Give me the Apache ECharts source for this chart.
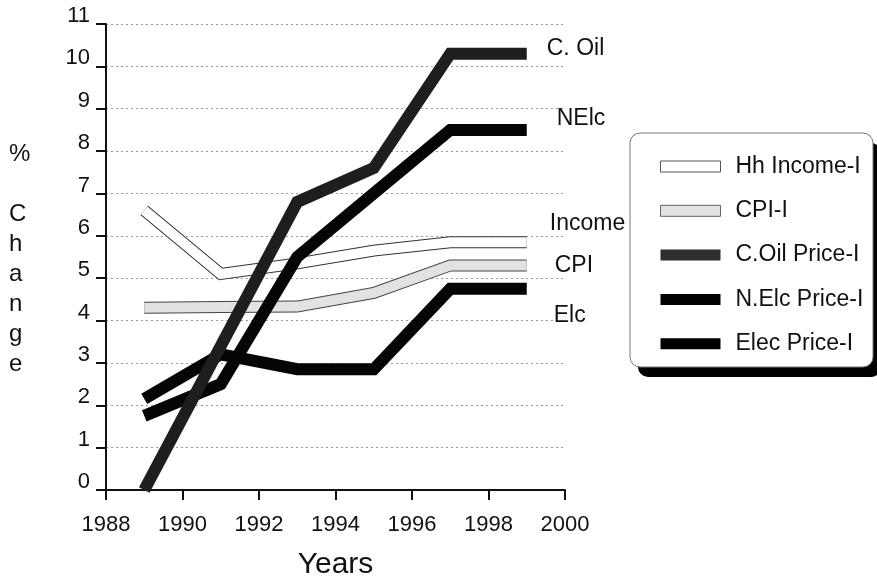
<!DOCTYPE html>
<html>
<head>
<meta charset="utf-8">
<script src="https://cdn.jsdelivr.net/npm/echarts@6/dist/echarts.min.js"></script>
<style>
html,body{margin:0;padding:0;background:#fff;}
#chart{width:877px;height:580px;}
</style>
</head>
<body>
<div id="chart"></div>
<script>
var years = [1989, 1991, 1993, 1995, 1997, 1999];
var incomeIdx = [6.6, 5.1, 5.35, 5.65, 5.85, 5.85];
var cpiIdx = [4.3, 4.32, 4.33, 4.65, 5.3, 5.3];
var coilIdx = [0, 3.4, 6.8, 7.6, 10.3, 10.3];
var nelcIdx = [1.75, 2.5, 5.5, 7.0, 8.5, 8.5];
var elecIdx = [2.15, 3.2, 2.85, 2.85, 4.75, 4.75];
var seriesNames = ['Hh Income-I', 'CPI-I', 'C.Oil Price-I', 'N.Elc Price-I', 'Elec Price-I'];
var endNames = ['Income', 'CPI', 'C. Oil', 'NElc', 'Elc'];
var xTicks = {min: 1988, max: 2000, step: 2};
var yTicks = {min: 0, max: 11, step: 1};

function pairs(vals) { return years.map(function (y, i) { return [y, vals[i]]; }); }

var FONT = 'Liberation Sans, Arial, sans-serif';
var chart = echarts.init(document.getElementById('chart'), null, {renderer: 'canvas'});

function lineSeries(name, vals, color, width, z, label, labelOffset) {
  var s = {
    name: name, type: 'line', data: pairs(vals), symbol: 'none', showSymbol: false,
    silent: true, z: z, color: color,
    lineStyle: {color: color, width: width, cap: 'butt', join: 'miter', miterLimit: 10},
    itemStyle: {color: color}
  };
  if (label) {
    s.endLabel = {show: true, formatter: label, distance: 0, offset: labelOffset,
      fontFamily: FONT, fontSize: 23, color: '#111'};
  }
  return s;
}

var option = {
  animation: false,
  backgroundColor: '#fff',
  grid: {left: 106, right: 312, top: 24, bottom: 90, containLabel: false, outerBoundsMode: 'none'},
  xAxis: {
    type: 'value', min: xTicks.min, max: xTicks.max, interval: xTicks.step,
    name: 'Years', nameLocation: 'middle', nameGap: 60,
    nameTextStyle: {fontFamily: FONT, fontSize: 30, color: '#111'},
    axisLine: {show: true, onZero: false, lineStyle: {color: '#111', width: 2}},
    axisTick: {show: true, inside: false, length: 10, lineStyle: {color: '#111', width: 2}},
    axisLabel: {margin: 24, fontFamily: FONT, fontSize: 22, color: '#111',
      formatter: function (v) { return String(v); }},
    splitLine: {show: false}
  },
  yAxis: {
    type: 'value', min: yTicks.min, max: yTicks.max, interval: yTicks.step,
    axisLine: {show: true, onZero: false, lineStyle: {color: '#111', width: 2}},
    axisTick: {show: true, inside: false, length: 10, lineStyle: {color: '#111', width: 2}},
    axisLabel: {margin: 16, fontFamily: FONT, fontSize: 22, color: '#111', verticalAlign: 'bottom', lineHeight: 16,
      formatter: function (v) { return String(v); }},
    splitLine: {show: true, lineStyle: {color: '#9a9a9a', width: 1, type: [2, 3]}}
  },
  legend: {
    orient: 'vertical', left: 630, top: 133,
    padding: [22, 10, 13, 30],
    itemWidth: 60, itemHeight: 11, itemGap: 21.3,
    icon: 'rect', selectedMode: false,
    backgroundColor: 'transparent', borderWidth: 0,
    textStyle: {fontFamily: FONT, fontSize: 23, lineHeight: 22, color: '#111', padding: [0, 0, 0, 10]},
    data: [
      {name: seriesNames[0], itemStyle: {color: '#fff', borderColor: '#555', borderWidth: 1}},
      {name: seriesNames[1], itemStyle: {color: '#e2e2e2', borderColor: '#666', borderWidth: 1}},
      {name: seriesNames[2], itemStyle: {color: '#2e2e2e', borderColor: '#2e2e2e', borderWidth: 0}},
      {name: seriesNames[3], itemStyle: {color: '#000', borderColor: '#000', borderWidth: 0}},
      {name: seriesNames[4], itemStyle: {color: '#000', borderColor: '#000', borderWidth: 0}}
    ]
  },
  graphic: [
    {type: 'rect', z: 0, silent: true, shape: {x: 638, y: 143, width: 243, height: 234, r: 10},
      style: {fill: '#000'}},
    {type: 'rect', z: 0, silent: true, shape: {x: 630, y: 133, width: 243, height: 234, r: 10},
      style: {fill: '#fff', stroke: '#777', lineWidth: 1}},
    {type: 'text', left: 9, top: 139, z: 5,
      style: {text: '%\n\nC\nh\na\nn\ng\ne', fontFamily: FONT, fontSize: 24, lineHeight: 30,
        fill: '#111', align: 'center', width: 24}}
  ],
  series: [
    lineSeries('incomeOutline', incomeIdx, '#333', 12, 1),
    lineSeries(seriesNames[0], incomeIdx, '#ffffff', 10, 2, endNames[0], [23, -19]),
    lineSeries('cpiOutline', cpiIdx, '#444', 12, 3),
    lineSeries(seriesNames[1], cpiIdx, '#e2e2e2', 10, 4, endNames[1], [28, 0]),
    lineSeries(seriesNames[4], elecIdx, '#050505', 12, 5, endNames[4], [27, 27]),
    lineSeries(seriesNames[3], nelcIdx, '#050505', 12, 6, endNames[3], [30, -11]),
    lineSeries(seriesNames[2], coilIdx, '#1e1e1e', 12, 7, endNames[2], [20, -5])
  ]
};
chart.setOption(option);
</script>
</body>
</html>
